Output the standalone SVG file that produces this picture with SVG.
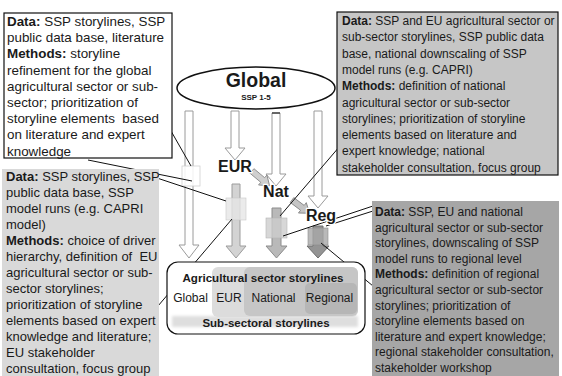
<svg xmlns="http://www.w3.org/2000/svg" width="562" height="376" viewBox="0 0 562 376">
  <style>
    text { font-family: "Liberation Sans", Arial, sans-serif; fill: #1a1a1a; }
    .b { font-weight: bold; }
    .hollow { fill: #ffffff; stroke: #9a9a9a; stroke-width: 1; }
    .link { stroke: #111111; stroke-width: 1; fill: none; }
    .lbl { font-weight: bold; font-size: 16px; text-anchor: middle; stroke: #ffffff; stroke-width: 2.5px; paint-order: stroke; stroke-linejoin: round; }
    .tl { font-size: 13.4px; }
    .tr { font-size: 12px; }
    .lm { font-size: 13px; }
    .rg { font-size: 12px; }
    .inner { font-size: 12px; text-anchor: middle; }
  </style>
  <defs>
    <filter id="soft" x="-10%" y="-50%" width="120%" height="200%">
      <feGaussianBlur stdDeviation="1.6"/>
    </filter>
  </defs>

  <!-- hollow arrows from the global level -->
  <g id="global-arrows">
    <polygon class="hollow" points="185,111 193,111 193,245 199,245 189,258 179,245 185,245"/>
    <polygon class="hollow" points="231,111 239,111 239,148 245,148 235,160 225,148 231,148"/>
    <polygon class="hollow" points="272,113 280,113 280,174 286,174 276,186 266,174 272,174"/>
    <line x1="272" y1="113" x2="280" y2="113" stroke="#222" stroke-width="1.2"/>
    <polygon class="hollow" points="314,111 322,111 322,196 328,196 318,208 308,196 314,196"/>
    <rect x="182" y="166" width="18" height="20" fill="#ffffff" fill-opacity="0.85" stroke="#d0d0d0" stroke-width="0.8"/>
  </g>

  <!-- filled arrows for EU, national and regional levels -->
  <g id="eur-column">
    <polygon points="232,184 240,184 240,246 246,246 236,258 226,246 232,246" fill="#d3d3d3" stroke="#9c9c9c"/>
    <rect x="226" y="198" width="20" height="22" fill="#e6e6e6" fill-opacity="0.8" stroke="#c8c8c8" stroke-width="0.6"/>
  </g>
  <g id="nat-column">
    <polygon points="272,208 281,208 281,246 287,246 276.5,258 266,246 272,246" fill="#b9b9b9" stroke="#8c8c8c"/>
    <rect x="266" y="218" width="21" height="20" fill="#cdcdcd" fill-opacity="0.8" stroke="#b4b4b4" stroke-width="0.6"/>
  </g>
  <g id="reg-column">
    <polygon points="313,226 323,226 323,246 329,246 318,258 307,246 313,246" fill="#949494" stroke="#6e6e6e"/>
    <rect x="308" y="228" width="20" height="17" fill="#a8a8a8" fill-opacity="0.8" stroke="#8a8a8a" stroke-width="0.6"/>
  </g>

  <!-- level-to-level arrows -->
  <g id="eur-nat-arrow" transform="translate(252,171) rotate(40)">
    <polygon points="0,-3 14,-3 14,-6.5 23,0 14,6.5 14,3 0,3" fill="#cfcfcf" stroke="#8e8e8e" stroke-width="0.9"/>
  </g>
  <g id="nat-reg-arrow" transform="translate(292,200) rotate(37)">
    <polygon points="0,-3 13,-3 13,-6.5 22,0 13,6.5 13,3 0,3" fill="#c4c4c4" stroke="#8a8a8a" stroke-width="0.9"/>
  </g>

  <!-- callout connectors -->
  <g id="connectors">
    <line class="link" x1="171" y1="131" x2="191" y2="166"/>
    <line class="link" x1="88" y1="160" x2="192" y2="181"/>
    <line class="link" x1="157" y1="178" x2="226" y2="201"/>
    <line class="link" x1="158" y1="306" x2="232" y2="219"/>
    <line class="link" x1="340" y1="146" x2="280" y2="216"/>
    <line class="link" x1="373" y1="206" x2="283" y2="236"/>
    <line class="link" x1="373" y1="211" x2="326" y2="226"/>
    <line class="link" x1="373" y1="286" x2="321" y2="243"/>
  </g>

  <!-- storyline summary box -->
  <g id="storyline-box">
    <rect x="167" y="262" width="198" height="72" rx="11" fill="#ffffff" stroke="#111" stroke-width="1.2"/>
    <rect x="172" y="316" width="186" height="11" fill="#dedede" filter="url(#soft)"/>
    <rect x="212" y="267" width="146" height="50" rx="6" fill="#dcdcdc"/>
    <rect x="244" y="267" width="114" height="49" rx="6" fill="#c6c6c6"/>
    <rect x="305" y="283" width="52" height="31" rx="5" fill="#b6b6b6"/>
    <text class="b" x="263" y="282" font-size="11.6" text-anchor="middle">Agricultural sector storylines</text>
    <text class="inner" x="190.5" y="302">Global</text>
    <text class="inner" x="229" y="302">EUR</text>
    <text class="inner" x="273.5" y="302">National</text>
    <text class="inner" x="329.5" y="302">Regional</text>
    <text class="b" x="266" y="327" font-size="11.5" text-anchor="middle">Sub-sectoral storylines</text>
  </g>

  <!-- global node -->
  <g id="global">
    <ellipse cx="256" cy="88" rx="79" ry="21" fill="#ffffff" stroke="#111" stroke-width="1.5"/>
    <text class="b" x="256" y="87" font-size="19.5" text-anchor="middle">Global</text>
    <text class="b" x="256" y="100" font-size="8" text-anchor="middle">SSP 1-5</text>
  </g>

  <!-- level labels -->
  <g id="eur"><text class="lbl" x="235" y="172">EUR</text></g>
  <g id="nat"><text class="lbl" x="276" y="197">Nat</text></g>
  <g id="reg"><text class="lbl" x="321" y="221">Reg</text></g>

  <!-- global level description -->
  <g id="box-global">
    <rect x="4" y="13" width="168" height="145" fill="#ffffff" stroke="#111" stroke-width="1.2"/>
    <text class="tl" x="7" y="26"><tspan class="b">Data:</tspan> SSP storylines, SSP</text>
    <text class="tl" x="7" y="42.2">public data base, literature</text>
    <text class="tl" x="7" y="58.4"><tspan class="b">Methods:</tspan> storyline</text>
    <text class="tl" x="7" y="74.6">refinement for the global</text>
    <text class="tl" x="7" y="90.8">agricultural sector or sub-</text>
    <text class="tl" x="7" y="107">sector; prioritization of</text>
    <text class="tl" x="7" y="123.2" xml:space="preserve">storyline elements  based</text>
    <text class="tl" x="7" y="139.4">on literature and expert</text>
    <text class="tl" x="7" y="155.6">knowledge</text>
  </g>

  <!-- national level description -->
  <g id="box-national">
    <rect x="337" y="12" width="221" height="163" fill="#c6c6c6" stroke="#111" stroke-width="1.2"/>
    <text class="tr" x="342" y="25"><tspan class="b">Data:</tspan> SSP and EU agricultural sector or</text>
    <text class="tr" x="342" y="41.3">sub-sector storylines, SSP public data</text>
    <text class="tr" x="342" y="57.6">base, national downscaling of SSP</text>
    <text class="tr" x="342" y="73.9">model runs (e.g. CAPRI)</text>
    <text class="tr" x="342" y="90.2"><tspan class="b">Methods:</tspan> definition of national</text>
    <text class="tr" x="342" y="106.5">agricultural sector or sub-sector</text>
    <text class="tr" x="342" y="122.8">storylines; prioritization of storyline</text>
    <text class="tr" x="342" y="139.1">elements based on literature and</text>
    <text class="tr" x="342" y="155.4">expert knowledge; national</text>
    <text class="tr" x="342" y="171.7">stakeholder consultation, focus group</text>
  </g>

  <!-- EU level description -->
  <g id="box-eu">
    <rect x="2" y="169" width="157" height="210" fill="#d9d9d9"/>
    <text class="lm" x="6" y="180.5"><tspan class="b">Data:</tspan> SSP storylines, SSP</text>
    <text class="lm" x="6" y="196.5">public data base, SSP</text>
    <text class="lm" x="6" y="212.5">model runs (e.g. CAPRI</text>
    <text class="lm" x="6" y="228.5">model)</text>
    <text class="lm" x="6" y="244.5"><tspan class="b">Methods:</tspan> choice of driver</text>
    <text class="lm" x="6" y="260.5" xml:space="preserve">hierarchy, definition of  EU</text>
    <text class="lm" x="6" y="276.5">agricultural sector or sub-</text>
    <text class="lm" x="6" y="292.5">sector storylines;</text>
    <text class="lm" x="6" y="308.5">prioritization of storyline</text>
    <text class="lm" x="6" y="324.5">elements based on expert</text>
    <text class="lm" x="6" y="340.5">knowledge and literature;</text>
    <text class="lm" x="6" y="356.5">EU stakeholder</text>
    <text class="lm" x="6" y="372.5">consultation, focus group</text>
  </g>

  <!-- regional level description -->
  <g id="box-regional">
    <rect x="372" y="201" width="187" height="178" fill="#a6a6a6"/>
    <text class="rg" x="375" y="216"><tspan class="b">Data:</tspan> SSP, EU and national</text>
    <text class="rg" x="375" y="231.6">agricultural sector or sub-sector</text>
    <text class="rg" x="375" y="247.2">storylines, downscaling of SSP</text>
    <text class="rg" x="375" y="262.8">model runs to regional level</text>
    <text class="rg" x="375" y="278.4"><tspan class="b">Methods:</tspan> definition of regional</text>
    <text class="rg" x="375" y="294">agricultural sector or sub-sector</text>
    <text class="rg" x="375" y="309.6">storylines; prioritization of</text>
    <text class="rg" x="375" y="325.2">storyline elements based on</text>
    <text class="rg" x="375" y="340.8">literature and expert knowledge;</text>
    <text class="rg" x="375" y="356.4">regional stakeholder consultation,</text>
    <text class="rg" x="375" y="372">stakeholder workshop</text>
  </g>
</svg>
